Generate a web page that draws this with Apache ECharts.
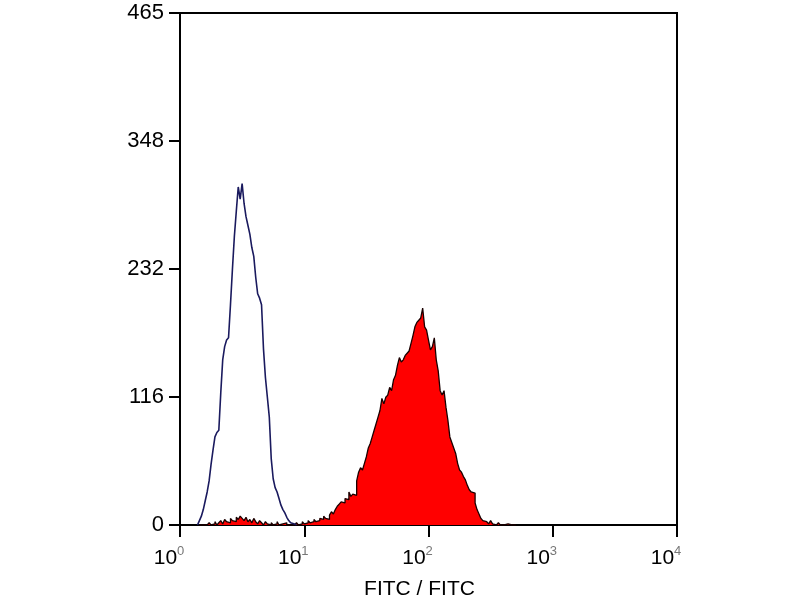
<!DOCTYPE html>
<html>
<head>
<meta charset="utf-8">
<script src="https://cdn.jsdelivr.net/npm/echarts@6/dist/echarts.min.js"></script>
<style>html,body{margin:0;padding:0;background:#fff}#c{width:800px;height:600px}</style>
</head>
<body>
<div id="c"></div>
<script>
// Histogram channels: 64 channels per decade over 10^0..10^4
const channelsPerDecade = 64;
const blueStart = 9;
const blueCounts = [0,1,4,8,14,22,30,40,55,68,80,84,86,120,150,162,168,170,200,232,262,285,307,296,310,292,280,272,264,252,244,225,210,206,200,160,134,116,98,60,42,34,30,24,18,14,11,7,4,2,1,0];
const redStart = 10;
const redCounts = [0,0,0,0,0,0,2,0,1,3,0,2,4,1,5,3,2,6,4,3,7,5,8,6,4,7,3,5,2,6,3,1,4,2,0,3,1,0,2,0,1,3,0,1,0,2,0,0,1,0,0,2,0,1,3,1,2,4,2,3,5,3,4,6,5,8,6,5,9,12,10,14,17,19,21,20,24,23,30,26,28,27,40,48,52,50,56,62,70,74,80,86,92,98,104,115,110,116,118,125,122,132,136,145,152,148,150,154,156,158,165,172,180,184,186,188,197,180,177,168,159,162,170,150,140,122,118,122,107,95,80,75,70,65,56,50,48,44,41,36,32,30,29,20,14,10,6,4,3,2,1,4,1,0,0,2,0,0,0,1,2,0,1,0];
const yTickLabels = ['0','116','232','348','465'];
const xTickExponents = ['0','1','2','3','4'];
const xTitle = 'FITC / FITC';

function toPairs(start, counts) {
  return counts.map((c, i) => [Math.pow(10, (start + i) / channelsPerDecade), c]);
}

const font = '"Liberation Sans", Arial, sans-serif';
const chart = echarts.init(document.getElementById('c'), null, {renderer: 'canvas'});
chart.setOption({
  animation: false,
  backgroundColor: '#fff',
  grid: {left: 180, top: 13, right: 123, bottom: 75, containLabel: false, outerBoundsMode: 'none',
         show: true, borderColor: '#000', borderWidth: 2, backgroundColor: 'transparent'},
  xAxis: {
    type: 'log', logBase: 10, min: 1, max: 10000, splitNumber: 4,
    axisLine: {show: true, onZero: false, lineStyle: {color: '#000', width: 2}},
    axisTick: {show: true, length: 12, lineStyle: {color: '#000', width: 2}},
    minorTick: {show: false},
    splitLine: {show: false},
    axisLabel: {
      margin: 20, padding: [0, 22, 0, 0],
      formatter: function (v) {
        const e = Math.round(Math.log10(v));
        return '{b|10}{s|' + xTickExponents[e] + '}';
      },
      rich: {
        b: {fontFamily: font, fontSize: 21, color: '#000'},
        s: {fontFamily: font, fontSize: 13, color: '#777', padding: [0, 0, 14, 0]}
      }
    },
    name: xTitle, nameLocation: 'middle', nameGap: 54,
    nameTextStyle: {fontFamily: font, fontSize: 21, color: '#000', padding: [0, 18, 0, 0]}
  },
  yAxis: {
    type: 'value', min: 0, max: 465, interval: 116.25,
    axisLine: {show: true, lineStyle: {color: '#000', width: 2}},
    axisTick: {show: true, length: 11, lineStyle: {color: '#000', width: 2}},
    splitLine: {show: false},
    axisLabel: {
      margin: 16, fontFamily: font, fontSize: 22, color: '#000', padding: [0, 0, 5, 0],
      formatter: function (v, i) { return yTickLabels[Math.round(v / 116.25)]; }
    }
  },
  series: [
    {
      type: 'line', step: 'start', symbol: 'none', data: toPairs(redStart, redCounts),
      lineStyle: {color: '#1a0000', width: 1.3},
      areaStyle: {color: '#ff0000', opacity: 1}
    },
    {
      type: 'line', step: 'start', symbol: 'none', data: toPairs(blueStart, blueCounts),
      lineStyle: {color: '#1a1a5e', width: 1.6}
    }
  ]
});
</script>
</body>
</html>
